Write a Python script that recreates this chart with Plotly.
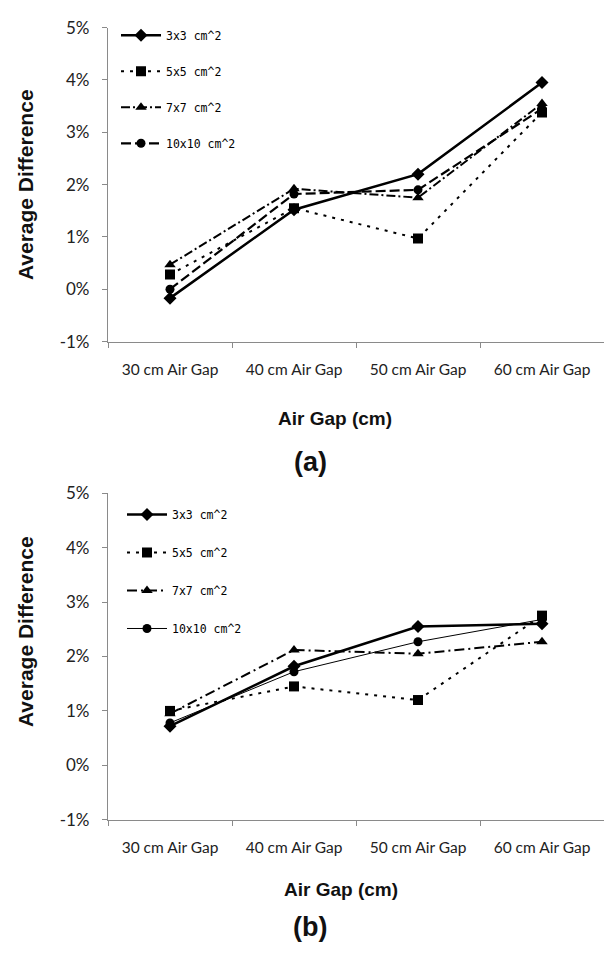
import plotly.graph_objects as go

# Air-gap categories shared by both panels
gaps = ["30 cm Air Gap", "40 cm Air Gap", "50 cm Air Gap", "60 cm Air Gap"]
field_sizes = ["3x3 cm^2", "5x5 cm^2", "7x7 cm^2", "10x10 cm^2"]

# Panel (a): average difference (%)
a_3x3 = [-0.17, 1.52, 2.20, 3.95]
a_5x5 = [0.28, 1.55, 0.97, 3.38]
a_7x7 = [0.47, 1.92, 1.75, 3.55]
a_10x10 = [0.00, 1.82, 1.90, 3.45]

# Panel (b): average difference (%)
b_3x3 = [0.72, 1.82, 2.55, 2.60]
b_5x5 = [1.00, 1.45, 1.20, 2.75]
b_7x7 = [0.95, 2.12, 2.05, 2.27]
b_10x10 = [0.78, 1.72, 2.27, 2.68]

y_ticks = [-1, 0, 1, 2, 3, 4, 5]
y_tick_labels = ["-1%", "0%", "1%", "2%", "3%", "4%", "5%"]

W, H = 604, 954
BLACK = "#000000"
AXIS = "#8a8a8a"
TICK_FONT = dict(family="Lato, Arial, sans-serif", size=15.5, color="#222222")
YTICK_FONT = dict(family="Lato, Arial, sans-serif", size=17, color="#222222")


def px_x(x):
    return x / W


def px_y(y):
    return 1 - y / H


styles_a = [
    dict(dash="solid", width=2.5, symbol="diamond", size=10),
    dict(dash="3px,6px", width=2, symbol="square", size=10),
    dict(dash="9px,3px,2px,3px", width=2, symbol="triangle-up", size=10),
    dict(dash="10px,4px", width=2.2, symbol="circle", size=9),
]
styles_b = [
    dict(dash="solid", width=2.5, symbol="diamond", size=10),
    dict(dash="3px,6px", width=2, symbol="square", size=10),
    dict(dash="10px,4px,2px,4px", width=2, symbol="triangle-up", size=10),
    dict(dash="solid", width=1, symbol="circle", size=9),
]

fig = go.Figure()

series_a = [a_3x3, a_5x5, a_7x7, a_10x10]
series_b = [b_3x3, b_5x5, b_7x7, b_10x10]

for name, vals, st in zip(field_sizes, series_a, styles_a):
    fig.add_trace(go.Scatter(
        x=gaps, y=vals, name=name, mode="lines+markers",
        xaxis="x", yaxis="y", legend="legend", legendgroup="a" + name,
        line=dict(color=BLACK, width=st["width"], dash=st["dash"]),
        marker=dict(color=BLACK, symbol=st["symbol"], size=st["size"]),
    ))

for name, vals, st in zip(field_sizes, series_b, styles_b):
    fig.add_trace(go.Scatter(
        x=gaps, y=vals, name=name, mode="lines+markers",
        xaxis="x2", yaxis="y2", legend="legend2", legendgroup="b" + name,
        line=dict(color=BLACK, width=st["width"], dash=st["dash"]),
        marker=dict(color=BLACK, symbol=st["symbol"], size=st["size"]),
    ))

x_common = dict(
    type="category", range=[-0.5, 3.5], tickson="boundaries",
    showline=True, linecolor=AXIS, linewidth=1.2,
    ticks="outside", ticklen=5, tickcolor=AXIS,
    showgrid=False, zeroline=False, tickfont=TICK_FONT,
    ticklabelstandoff=14,
    domain=[px_x(108), 1.0],
)
y_common = dict(
    range=[-1, 5], tickmode="array", tickvals=y_ticks, ticktext=y_tick_labels,
    showline=True, linecolor=AXIS, linewidth=1.2,
    ticks="outside", ticklen=5, tickcolor=AXIS,
    showgrid=False, zeroline=False, tickfont=YTICK_FONT,
    ticklabelstandoff=9,
)

legend_common = dict(
    font=dict(family="DejaVu Sans Mono, monospace", size=11.5, color=BLACK),
    bgcolor="rgba(0,0,0,0)", borderwidth=0,
    itemwidth=40, xanchor="left", yanchor="top",
)

fig.update_layout(
    width=W, height=H,
    margin=dict(l=0, r=0, t=0, b=0),
    paper_bgcolor="white", plot_bgcolor="white",
    xaxis=dict(x_common, anchor="y"),
    yaxis=dict(y_common, anchor="x", domain=[px_y(338), px_y(17)]),
    xaxis2=dict(x_common, anchor="y2"),
    yaxis2=dict(y_common, anchor="x2", domain=[px_y(827), px_y(493)]),
    legend=dict(legend_common, x=px_x(116), y=px_y(10), tracegroupgap=17),
    legend2=dict(legend_common, x=px_x(122), y=px_y(500), tracegroupgap=19),
    showlegend=True,
)

TITLE_FAMILY = "Liberation Sans, Arial, sans-serif"
annotations = [
    dict(text="<b>Average Difference</b>", x=px_x(25), y=px_y(178), textangle=-90, size=21),
    dict(text="<b>Average Difference</b>", x=px_x(25), y=px_y(635), textangle=-90, size=21),
    dict(text="<b>Air Gap (cm)</b>", x=px_x(335), y=px_y(417), textangle=0, size=19),
    dict(text="<b>Air Gap (cm)</b>", x=px_x(341), y=px_y(898), textangle=0, size=19),
    dict(text="<b>(a)</b>", x=px_x(310), y=px_y(461), textangle=0, size=27),
    dict(text="<b>(b)</b>", x=px_x(310), y=px_y(937), textangle=0, size=27),
]
for ann in annotations:
    fig.add_annotation(text=ann["text"], x=ann["x"], y=ann["y"], textangle=ann["textangle"],
                       xref="paper", yref="paper", showarrow=False,
                       xanchor="center", yanchor="middle",
                       font=dict(family=TITLE_FAMILY, size=ann["size"], color="#111111"))

fig.write_html("out.html")
